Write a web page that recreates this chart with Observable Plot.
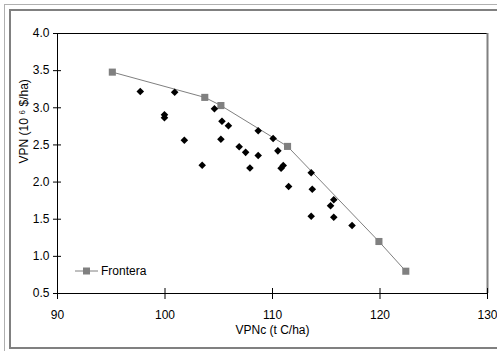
<!DOCTYPE html>
<html>
<head>
<meta charset="utf-8">
<script src="https://cdn.jsdelivr.net/npm/d3@7"></script>
<script src="https://cdn.jsdelivr.net/npm/@observablehq/plot@0.6"></script>
<style>
  html, body { margin: 0; padding: 0; background: #fff; }
  #wrap { position: relative; width: 497px; height: 351px; overflow: hidden; font-family: "Liberation Sans", sans-serif; }
  #chart { position: absolute; left: 0; top: 0; }
  .outer { position: absolute; left: 4px; top: 4px; width: 600px; height: 400px; border: 1px solid #b0b0b0; box-sizing: border-box; }
  .inner { position: absolute; left: 9px; top: 9px; width: 600px; height: 340px; border: 2px solid #808080; box-sizing: border-box; }
  #legend { position: absolute; left: 0; top: 0; }
</style>
</head>
<body>
<div id="wrap">
  <div id="chart"></div>
  <div class="outer"></div>
  <div class="inner"></div>
  <svg id="legend" width="497" height="351">
    <line x1="75" y1="271" x2="98" y2="271" stroke="#808080" stroke-width="1"/>
    <rect x="83" y="267.5" width="7" height="7" fill="#808080"/>
    <text x="101" y="271" dy="0.35em" font-family="Liberation Sans, sans-serif" font-size="12" fill="#000">Frontera</text>
  </svg>
</div>
<script>
// Frontier (gray squares + line)
const frontX = [95.1, 103.7, 105.2, 111.4, 119.9, 122.4];
const frontY = [3.48, 3.14, 3.03, 2.48, 1.20, 0.80];

// Scattered solutions (black diamonds)
const ptsX = [97.7, 100.9, 99.95, 99.95, 101.8, 103.46, 104.6, 105.3, 105.9, 105.2,
              106.9, 107.5, 107.9, 108.67, 110.06, 108.67, 110.5, 111.0, 110.8, 111.5,
              113.6, 113.7, 115.7, 115.4, 113.6, 115.7, 117.4];
const ptsY = [3.22, 3.21, 2.905, 2.865, 2.564, 2.227, 2.986, 2.82, 2.757, 2.577,
              2.475, 2.40, 2.19, 2.69, 2.587, 2.358, 2.42, 2.223, 2.187, 1.94,
              2.125, 1.904, 1.761, 1.68, 1.54, 1.527, 1.415];

const xTicks = [90, 100, 110, 120, 130];
const yTicks = [0.5, 1.0, 1.5, 2.0, 2.5, 3.0, 3.5, 4.0];
const xTitle = "VPNc (t C/ha)";
const yTitle = "VPN (10 \u2076 $/ha)";

const front = frontX.map((x, i) => ({x, y: frontY[i]}));
const pts = ptsX.map((x, i) => ({x, y: ptsY[i]}));

const W = 497, H = 351, mL = 57, mR = 10, mT = 33, mB = 58;
const fw = W - mL - mR, fh = H - mT - mB;

const chart = Plot.plot({
  width: W, height: H,
  marginLeft: mL, marginRight: mR, marginTop: mT, marginBottom: mB,
  style: {background: "transparent", fontFamily: "Liberation Sans, sans-serif", fontSize: "12px", color: "#000"},
  x: {domain: [90, 130]},
  y: {domain: [0.5, 4.0]},
  marks: [
    Plot.ruleY([4.0], {stroke: "#000", strokeWidth: 1}),
    Plot.ruleX([130], {stroke: "#808080", strokeWidth: 2}),
    Plot.ruleX([90], {stroke: "#000", strokeWidth: 1}),
    Plot.ruleY([0.5], {stroke: "#000", strokeWidth: 1}),
    Plot.axisX({ticks: xTicks, tickSize: 6, tickPadding: 11, tickFormat: d => String(d), stroke: "#000", label: null}),
    Plot.tickX(xTicks, {x: d => d, insetTop: fh - 5, stroke: "#000"}),
    Plot.axisY({ticks: yTicks, tickSize: 4, tickPadding: 4, tickFormat: d3.format(".1f"), stroke: "#000", label: null}),
    Plot.tickY(yTicks, {y: d => d, insetRight: fw - 4, stroke: "#000"}),
    Plot.text([xTitle], {frameAnchor: "bottom", dy: 40, text: d => d, fontSize: 12}),
    Plot.text([yTitle], {frameAnchor: "left", dx: -33, rotate: -90, text: d => d, fontSize: 12}),
    Plot.line(front, {x: "x", y: "y", stroke: "#808080", strokeWidth: 1}),
    Plot.dot(front, {x: "x", y: "y", symbol: "square", r: 4, fill: "#808080", stroke: "none"}),
    Plot.dot(pts, {x: "x", y: "y", symbol: "diamond2", r: 3.4, fill: "#000", stroke: "none"})
  ]
});
document.getElementById("chart").appendChild(chart);
</script>
</body>
</html>
